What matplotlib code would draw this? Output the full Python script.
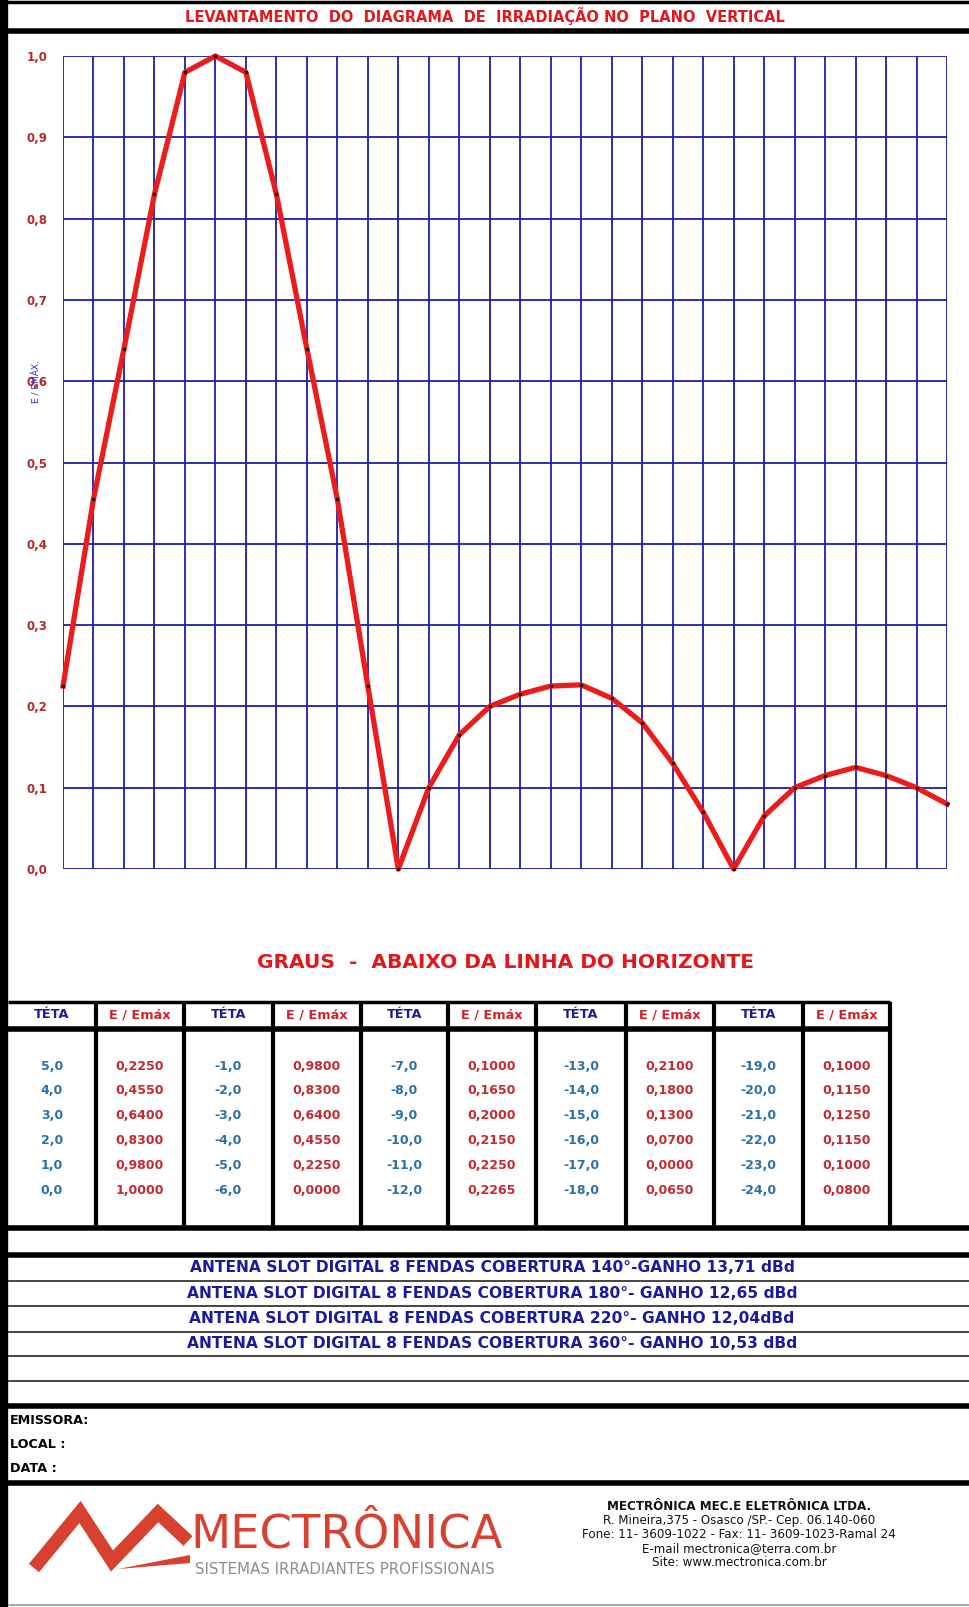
import numpy as np
import matplotlib.pyplot as plt

# dados do diagrama (teta em graus, abaixo do horizonte)
teta = [5, 4, 3, 2, 1, 0, -1, -2, -3, -4, -5, -6, -7, -8, -9, -10, -11, -12,
        -13, -14, -15, -16, -17, -18, -19, -20, -21, -22, -23, -24]
e_emax = [0.2250, 0.4550, 0.6400, 0.8300, 0.9800, 1.0000,
          0.9800, 0.8300, 0.6400, 0.4550, 0.2250, 0.0000,
          0.1000, 0.1650, 0.2000, 0.2150, 0.2250, 0.2265,
          0.2100, 0.1800, 0.1300, 0.0700, 0.0000, 0.0650,
          0.1000, 0.1150, 0.1250, 0.1150, 0.1000, 0.0800]
y_ticks = [0.0, 0.1, 0.2, 0.3, 0.4, 0.5, 0.6, 0.7, 0.8, 0.9, 1.0]
y_labels = ['0,0', '0,1', '0,2', '0,3', '0,4', '0,5', '0,6', '0,7', '0,8', '0,9', '1,0']

titulo = 'LEVANTAMENTO  DO  DIAGRAMA  DE  IRRADIAÇÃO NO  PLANO  VERTICAL'
eixo_x = 'GRAUS  -  ABAIXO DA LINHA DO HORIZONTE'
antenas = ['ANTENA SLOT DIGITAL 8 FENDAS COBERTURA 140°-GANHO 13,71 dBd',
           'ANTENA SLOT DIGITAL 8 FENDAS COBERTURA 180°- GANHO 12,65 dBd',
           'ANTENA SLOT DIGITAL 8 FENDAS COBERTURA 220°- GANHO 12,04dBd',
           'ANTENA SLOT DIGITAL 8 FENDAS COBERTURA 360°- GANHO 10,53 dBd']
campos = ['EMISSORA:', 'LOCAL :', 'DATA :']
empresa = ['MECTRÔNICA MEC.E ELETRÔNICA LTDA.',
           'R. Mineira,375 - Osasco /SP.- Cep. 06.140-060',
           'Fone: 11- 3609-1022 - Fax: 11- 3609-1023-Ramal 24',
           'E-mail mectronica@terra.com.br',
           'Site: www.mectronica.com.br']

W, H = 969, 1607
fig = plt.figure(figsize=(W / 100, H / 100), dpi=100)

# pagina inteira em pixels
page = fig.add_axes([0, 0, 1, 1])
page.set_xlim(0, W)
page.set_ylim(H, 0)
page.axis('off')


def linha(y, x0=0, x1=W, lw=3.5, c='black'):
    page.plot([x0, x1], [y, y], color=c, lw=lw, solid_capstyle='butt')


def vlinha(x, y0, y1, lw=3.0, c='black'):
    page.plot([x, x], [y0, y1], color=c, lw=lw, solid_capstyle='butt')


# moldura
vlinha(4, 0, H, lw=6)
linha(1.5, lw=2.5)
linha(31, lw=4)
page.text(485, 16, titulo, color='#e3161b', fontsize=10.5, fontweight='bold',
          ha='center', va='center')
page.text(506, 963, eixo_x, color='#e3161b', fontsize=14.5, fontweight='bold',
          ha='center', va='center')

# tabela
bordas = [8, 96, 184, 273, 361, 448, 536, 626, 714, 803, 890]
linha(1002, 8, 890, lw=2.5)
linha(1029, 8, 890, lw=4)
linha(1228, 0, W, lw=4)
for x in bordas[1:]:
    vlinha(x, 1002, 1228, lw=3)
for j in range(10):
    xc = (bordas[j] + bordas[j + 1]) / 2
    if j % 2 == 0:
        page.text(xc, 1015, 'TÉTA', color='#1a1aa0', fontsize=9.3,
                  fontweight='bold', ha='center', va='center')
    else:
        page.text(xc, 1015, 'E / Emáx', color='#d42028', fontsize=9.3,
                  fontweight='bold', ha='center', va='center')
for k in range(5):
    for i in range(6):
        n = k * 6 + i
        y = 1066 + i * 24.8
        xt = (bordas[2 * k] + bordas[2 * k + 1]) / 2
        xe = (bordas[2 * k + 1] + bordas[2 * k + 2]) / 2
        page.text(xt, y, f'{teta[n]:.1f}'.replace('.', ','), color='#2a70a8',
                  fontsize=9, fontweight='bold', ha='center', va='center')
        page.text(xe, y, f'{e_emax[n]:.4f}'.replace('.', ','), color='#c42a2e',
                  fontsize=9, fontweight='bold', ha='center', va='center')

# antenas
linha(1255, 8, W, lw=4)
for i, txt in enumerate(antenas):
    page.text(492, 1268 + i * 25.2, txt, color='#1a1aa0', fontsize=11.2,
              fontweight='bold', ha='center', va='center')
for y in [1281, 1306, 1332, 1356, 1381]:
    linha(y, 8, W, lw=1.4, c='#444444')
linha(1406, 8, W, lw=4)
for i, txt in enumerate(campos):
    page.text(10, 1420 + i * 24.5, txt, color='black', fontsize=9.2,
              fontweight='bold', ha='left', va='center')
linha(1483, 8, W, lw=4)
linha(1605, 8, W, lw=1.5, c='#aaaaaa')

# logotipo
cor_logo = '#d8412f'
page.plot([34, 80, 112, 158, 188], [1568, 1512, 1561, 1513, 1541],
          color=cor_logo, lw=9.5, solid_joinstyle='miter', solid_capstyle='butt')
page.fill([118, 190, 190], [1569, 1555, 1563], color=cor_logo, lw=0)
page.text(190, 1548, 'MECTRÔNICA', color=cor_logo, fontsize=33.5,
          ha='left', va='baseline')
page.text(195, 1570, 'SISTEMAS IRRADIANTES PROFISSIONAIS', color='#8c8c8c',
          fontsize=10.8, ha='left', va='center')
for i, txt in enumerate(empresa):
    page.text(739, 1507 + i * 13.8, txt, color='#111111', fontsize=8.6,
              fontweight='bold' if i == 0 else 'normal', ha='center', va='center')

# grafico
ax = fig.add_axes([63 / W, 1 - 869 / H, 884 / W, 813 / H])
ax.patch.set_alpha(0)
ax.vlines(teta, 0, 1, colors='#1c1caa', lw=1.3, zorder=1)
ax.hlines(y_ticks, min(teta), max(teta), colors='#1c1caa', lw=1.3, zorder=1)
ax.plot(teta, e_emax, color='#ec1c1c', lw=3.8, marker='o', ms=2.6,
        mfc='#2a0000', mec='none', solid_joinstyle='round', zorder=3, clip_on=False)
ax.set_xlim(5, -24)
ax.set_ylim(0, 1)
ax.set_xticks([])
ax.set_yticks(y_ticks)
ax.set_yticklabels(y_labels, color='#b22a2a', fontweight='bold', fontsize=8.5)
ax.tick_params(axis='y', length=0, pad=11)
for s in ax.spines.values():
    s.set_visible(False)
ax.set_ylabel('E / EMÁX.', color='#2a2ad0', fontsize=6.5)
ax.yaxis.set_label_coords(-0.024, 0.6)

fig.savefig('out.png', dpi=100)
